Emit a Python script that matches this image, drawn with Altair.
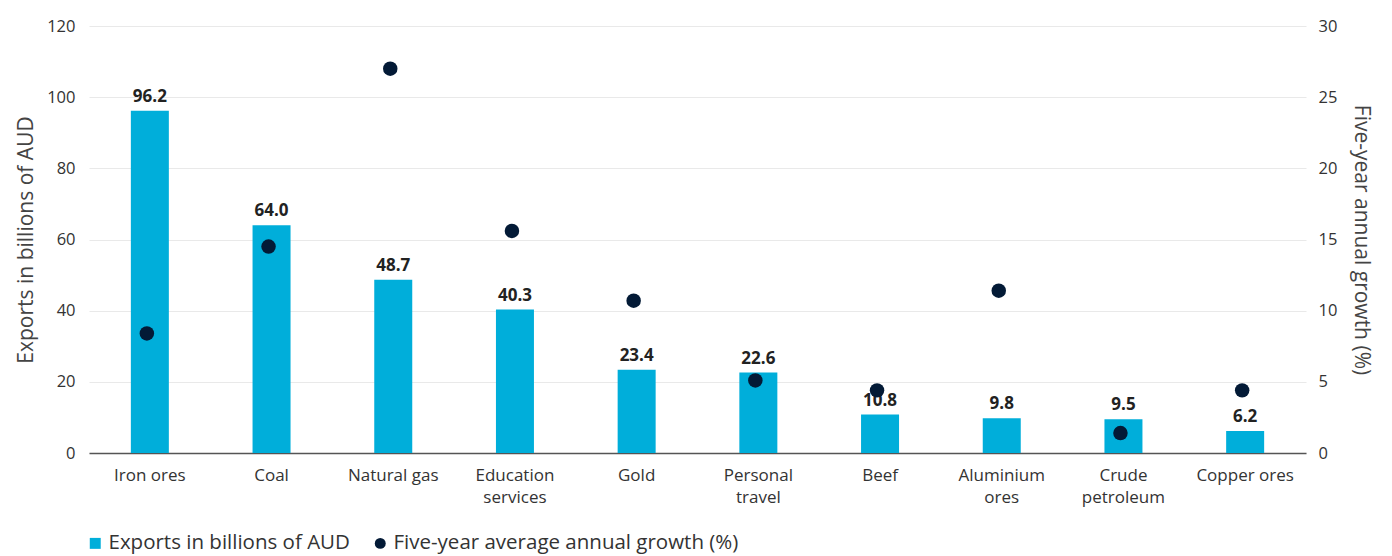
import altair as alt
import pandas as pd

categories = ["Iron ores", "Coal", "Natural gas", "Education\nservices", "Gold",
              "Personal\ntravel", "Beef", "Aluminium\nores", "Crude\npetroleum", "Copper ores"]
exports = [96.2, 64.0, 48.7, 40.3, 23.4, 22.6, 10.8, 9.8, 9.5, 6.2]
growth = [8.4, 14.5, 27.0, 15.6, 10.7, 5.1, 4.4, 11.4, 1.4, 4.4]
left_ticks = [0, 20, 40, 60, 80, 100, 120]
right_ticks = [0, 5, 10, 15, 20, 25, 30]

s_exp = "Exports in billions of AUD"
s_gro = "Five-year average annual growth (%)"

df = pd.DataFrame({"cat": categories, "exports": exports, "growth": growth,
                   "s1": s_exp, "s2": s_gro})

FONT = "Open Sans"
BLUE = "#00AEDA"
NAVY = "#031A36"
TICK = 16.5

xenc = alt.X("cat:N", sort=categories, title=None,
             scale=alt.Scale(paddingInner=0, paddingOuter=0),
             axis=alt.Axis(labelExpr="split(datum.label, '\\n')", labelAngle=0,
                           ticks=False, grid=False, domain=True,
                           domainColor="#555555", domainWidth=1.5,
                           labelFontSize=17, labelColor="#333333", labelPadding=14,
                           labelLineHeight=22, labelFont=FONT))

color_scale = alt.Scale(domain=[s_exp, s_gro], range=[BLUE, NAVY])
shape_scale = alt.Scale(domain=[s_exp, s_gro], range=["square", "circle"])

legend = alt.Legend(title=None, orient="none", legendX=-4, legendY=507, direction="horizontal",
                    labelFontSize=20.5, labelFont=FONT, labelColor="#333333", labelLimit=600,
                    symbolSize=120, symbolStrokeWidth=0, columnPadding=20, labelOffset=3)

bars = alt.Chart(df).mark_bar(size=38, color=BLUE).encode(
    x=xenc,
    y=alt.Y("exports:Q", scale=alt.Scale(domain=[0, 120], nice=False),
            axis=alt.Axis(values=left_ticks, title="Exports  in billions of AUD",
                          ticks=False, domain=False, grid=True, gridColor="#e9e9e9",
                          labelFontSize=TICK, labelColor="#333333", labelPadding=14,
                          titleFontSize=21, titleFontWeight="normal", titleColor="#444444",
                          titlePadding=10, labelFont=FONT, titleFont=FONT)),
    color=alt.Color("s1:N", scale=color_scale, legend=legend),
    shape=alt.Shape("s1:N", scale=shape_scale, legend=legend),
)

labels = alt.Chart(df).mark_text(baseline="bottom", dy=-5, fontSize=17, fontWeight="bold",
                                 color="#222222", font=FONT).encode(
    x=alt.X("cat:N", sort=categories),
    y=alt.Y("exports:Q"),
    text=alt.Text("exports:Q", format=".1f"),
)

left = alt.layer(bars, labels)

points = alt.Chart(df).mark_point(filled=True, size=210, opacity=1, xOffset=-3).encode(
    x=alt.X("cat:N", sort=categories),
    y=alt.Y("growth:Q", scale=alt.Scale(domain=[0, 30], nice=False),
            axis=alt.Axis(values=right_ticks, title="Five-year annual growth (%)", orient="right",
                          ticks=False, domain=False, grid=False,
                          labelFontSize=TICK, labelColor="#333333", labelPadding=12,
                          titleFontSize=21, titleFontWeight="normal", titleColor="#444444",
                          titlePadding=14, labelFont=FONT, titleFont=FONT)),
    color=alt.Color("s2:N", scale=color_scale, legend=legend),
    shape=alt.Shape("s2:N", scale=shape_scale, legend=legend),
)

chart = alt.layer(left, points).resolve_scale(y="independent").properties(
    width=1217, height=427,
    background="white",
    autosize=alt.AutoSizeParams(type="none"),
    padding={"left": 81, "top": 18, "right": 78, "bottom": 115},
).configure_view(stroke="transparent", strokeWidth=0).configure_axisY(domain=False)

chart.save("out.html", embed_options={"renderer": "svg", "actions": False})
